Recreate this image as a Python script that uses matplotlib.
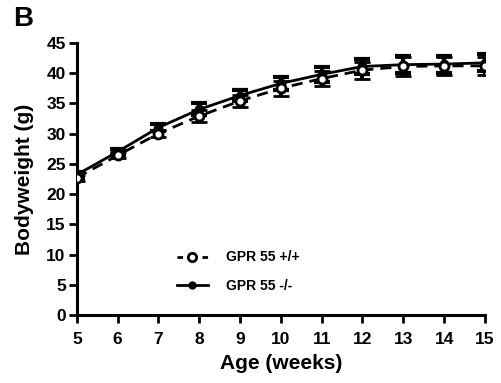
import matplotlib
matplotlib.use("Agg")
import matplotlib.pyplot as plt
from matplotlib.lines import Line2D

plt.rcParams['font.family'] = ['Liberation Sans', 'DejaVu Sans']
plt.rcParams['font.weight'] = 'bold'

weeks = [5, 6, 7, 8, 9, 10, 11, 12, 13, 14, 15]
wt_mean = [22.7, 26.4, 30.0, 32.9, 35.4, 37.5, 39.1, 40.5, 41.1, 41.2, 41.2]
wt_err = [0.5, 0.5, 0.6, 1.0, 1.0, 1.2, 1.3, 1.4, 1.5, 1.5, 1.5]
ko_mean = [23.2, 27.0, 31.0, 34.0, 36.3, 38.3, 39.8, 41.1, 41.4, 41.5, 41.7]
ko_err = [0.5, 0.5, 0.6, 1.0, 0.9, 1.1, 1.2, 1.3, 1.4, 1.4, 1.4]

fig = plt.figure(figsize=(5.02, 3.83), dpi=100)
ax = fig.add_axes([0.153, 0.1775, 0.813, 0.7105])

ax.errorbar(weeks, ko_mean, yerr=ko_err, color='black', linestyle='-', linewidth=2,
            marker='o', markersize=6, markerfacecolor='black', markeredgecolor='black',
            capsize=6, capthick=3, elinewidth=3, zorder=3)
ax.errorbar(weeks, wt_mean, yerr=wt_err, color='black', linestyle=(0, (4, 2.5)), linewidth=2,
            marker='o', markersize=6.5, markerfacecolor='white', markeredgecolor='black',
            markeredgewidth=2, capsize=6, capthick=3, elinewidth=3, zorder=4)

ax.set_xlim(5, 15)
ax.set_ylim(0, 45)
ax.set_xticks(range(5, 16))
ax.set_yticks(range(0, 46, 5))
for s in ['top', 'right']:
    ax.spines[s].set_visible(False)
for s in ['left', 'bottom']:
    ax.spines[s].set_linewidth(2.2)
ax.tick_params(width=2, length=6, labelsize=12.5)
ax.tick_params(axis='x', pad=6)
ax.tick_params(axis='y', pad=2)
for lbl in ax.get_xticklabels() + ax.get_yticklabels():
    lbl.set_fontweight('bold')
ax.set_xlabel('Age (weeks)', fontsize=15, fontweight='bold', labelpad=5)
ax.set_ylabel('Bodyweight (g)', fontsize=15, fontweight='bold', labelpad=9)

handles = [
    Line2D([0], [0], color='black', linestyle=(0, (2, 2.5)), linewidth=2, marker='o',
           markersize=6, markerfacecolor='white', markeredgewidth=2),
    Line2D([0], [0], color='black', linestyle='-', linewidth=2, marker='o',
           markersize=5, markerfacecolor='black'),
]
leg = ax.legend(handles, ['GPR 55 +/+', 'GPR 55 -/-'], loc='lower left',
                bbox_to_anchor=(0.215, 0.035), frameon=False, fontsize=10,
                handlelength=2.2, handletextpad=1.3, labelspacing=1.05)
for t in leg.get_texts():
    t.set_fontweight('bold')

fig.text(0.026, 0.95, 'B', fontsize=20, fontweight='bold', va='center')

fig.savefig('out.png', dpi=100)
